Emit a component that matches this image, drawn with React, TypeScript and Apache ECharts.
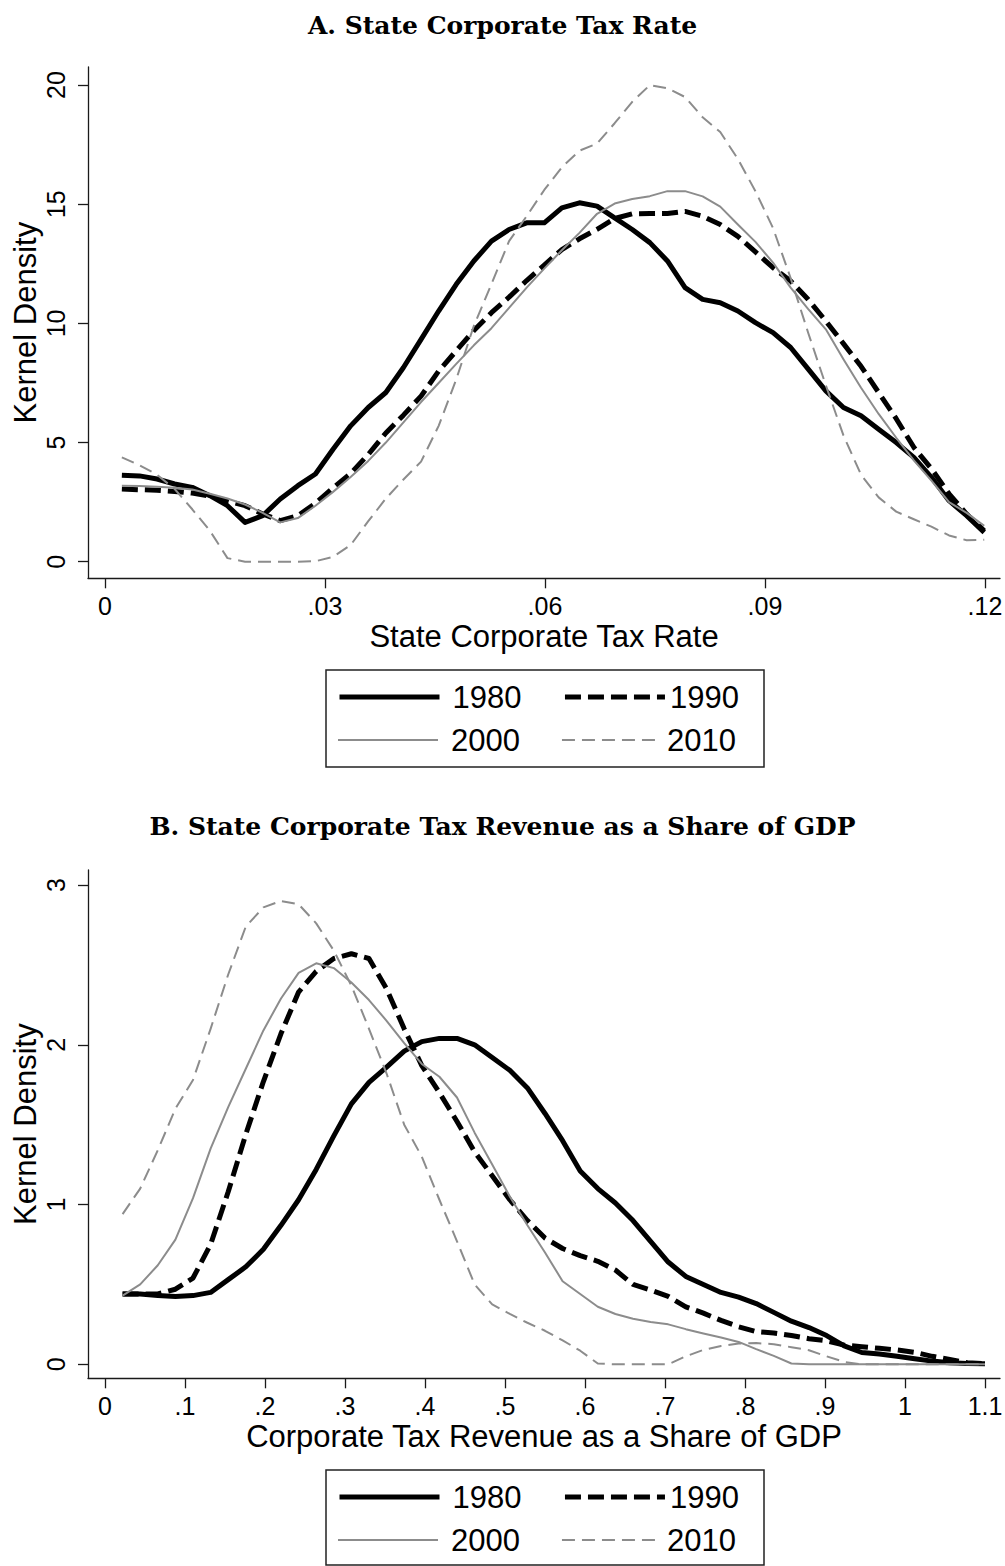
import React, { useEffect, useRef } from "react";
import * as echarts from "echarts";

// ---------- Panel A: State corporate tax rate (kernel density) ----------
const xA = [
  0.0023, 0.0047, 0.0071, 0.0095, 0.0119, 0.0143, 0.0167, 0.0191, 0.0215, 0.0239,
  0.0263, 0.0287, 0.0311, 0.0335, 0.0359, 0.0383, 0.0407, 0.0431, 0.0455, 0.0479,
  0.0503, 0.0527, 0.0551, 0.0575, 0.0599, 0.0623, 0.0647, 0.0671, 0.0695, 0.0719,
  0.0743, 0.0767, 0.0791, 0.0815, 0.0839, 0.0863, 0.0887, 0.0911, 0.0935, 0.0959,
  0.0983, 0.1007, 0.1031, 0.1055, 0.1079, 0.1103, 0.1127, 0.1151, 0.1175, 0.1199,
];
const a1980 = [
  3.63, 3.6, 3.47, 3.26, 3.12, 2.77, 2.35, 1.65, 1.93, 2.63,
  3.19, 3.68, 4.72, 5.7, 6.47, 7.1, 8.15, 9.33, 10.52, 11.64,
  12.62, 13.45, 13.94, 14.22, 14.22, 14.85, 15.06, 14.92, 14.43, 13.94,
  13.39, 12.62, 11.5, 11.01, 10.87, 10.52, 10.03, 9.61, 8.99, 8.08,
  7.17, 6.47, 6.12, 5.56, 5.0, 4.38, 3.54, 2.56, 1.93, 1.23,
];
const a1990 = [
  3.05, 3.02, 3.0, 2.95, 2.88, 2.75, 2.55, 2.35, 2.0, 1.72,
  1.93, 2.45, 3.1, 3.7, 4.5, 5.4, 6.15, 6.95, 8.0, 8.85,
  9.7, 10.45, 11.1, 11.8, 12.45, 13.1, 13.55, 13.95, 14.4, 14.6,
  14.61, 14.61, 14.7, 14.5, 14.15, 13.65, 13.0, 12.34, 11.78, 11.0,
  10.1, 9.15, 8.2, 7.1, 6.0, 4.8, 3.9, 2.85, 2.0, 1.3,
];
const a2000 = [
  3.19, 3.18, 3.15, 3.1, 3.03, 2.85, 2.65, 2.4, 2.05, 1.65,
  1.83, 2.35, 2.93, 3.55, 4.23, 5.0, 5.85, 6.7, 7.5, 8.3,
  9.08, 9.8, 10.65, 11.5, 12.3, 13.07, 13.8, 14.6, 15.03, 15.22,
  15.34, 15.55, 15.55, 15.33, 14.9, 14.15, 13.42, 12.55, 11.5, 10.6,
  9.75, 8.5, 7.3, 6.2, 5.2, 4.25, 3.4, 2.5, 2.05, 1.51,
];
const a2010 = [
  4.38, 4.05, 3.65, 3.05, 2.2, 1.3, 0.15, 0.0, 0.0, 0.0,
  0.0, 0.02, 0.2, 0.7, 1.7, 2.65, 3.45, 4.2, 5.7, 7.65,
  9.9, 11.65, 13.45, 14.5, 15.6, 16.55, 17.25, 17.55, 18.4, 19.3,
  20.0, 19.87, 19.5, 18.65, 18.03, 16.9, 15.55, 14.0, 11.9, 9.6,
  7.4, 5.3, 3.65, 2.7, 2.1, 1.78, 1.47, 1.1, 0.9, 0.92,
];
const xTickValsA = [0, 0.03, 0.06, 0.09, 0.12];
const xTickLabsA = ["0", ".03", ".06", ".09", ".12"];
const yTickValsA = [0, 5, 10, 15, 20];

// ---------- Panel B: corporate tax revenue as share of GDP ----------
const xB = [
  0.022, 0.044, 0.066, 0.088, 0.11, 0.132, 0.154, 0.176, 0.198, 0.22,
  0.242, 0.264, 0.286, 0.308, 0.33, 0.352, 0.374, 0.396, 0.418, 0.44,
  0.462, 0.484, 0.506, 0.528, 0.55, 0.572, 0.594, 0.616, 0.638, 0.66,
  0.682, 0.704, 0.726, 0.748, 0.77, 0.792, 0.814, 0.836, 0.858, 0.88,
  0.902, 0.924, 0.946, 0.968, 0.99, 1.012, 1.034, 1.056, 1.078, 1.1,
];
const b1980 = [
  0.44, 0.44, 0.43, 0.425, 0.43, 0.45, 0.53, 0.61, 0.72, 0.87,
  1.03, 1.22, 1.43, 1.63, 1.765, 1.86, 1.96, 2.02, 2.04, 2.04,
  2.0, 1.92, 1.84, 1.73, 1.57, 1.4, 1.21, 1.1, 1.01, 0.9,
  0.77, 0.64, 0.55, 0.5, 0.45, 0.42, 0.38, 0.325, 0.27, 0.23,
  0.18, 0.115, 0.074, 0.065, 0.05, 0.035, 0.02, 0.01, 0.005, 0.003,
];
const b1990 = [
  0.44, 0.44, 0.44, 0.47, 0.54, 0.75, 1.08, 1.44, 1.77, 2.07,
  2.33, 2.46, 2.54, 2.57, 2.54, 2.35, 2.1, 1.87, 1.7, 1.52,
  1.33, 1.18, 1.03, 0.9, 0.79, 0.725, 0.68, 0.645, 0.59, 0.5,
  0.465, 0.425, 0.36, 0.32, 0.275, 0.235, 0.205, 0.196, 0.18, 0.16,
  0.147, 0.12, 0.11, 0.1, 0.09, 0.075, 0.05, 0.03, 0.01, 0.003,
];
const b2000 = [
  0.43, 0.5, 0.62, 0.78, 1.04, 1.35, 1.61, 1.85, 2.09, 2.29,
  2.45, 2.51, 2.48, 2.39, 2.28, 2.15, 2.01, 1.88, 1.8, 1.67,
  1.45, 1.25, 1.05, 0.87, 0.7, 0.52, 0.44, 0.36, 0.315, 0.285,
  0.265, 0.25, 0.22, 0.193, 0.168, 0.14, 0.095, 0.053, 0.005, 0,
  0, 0, 0, 0, 0, 0, 0, 0, 0, 0,
];
const b2010 = [
  0.94, 1.1, 1.34, 1.6, 1.78, 2.1, 2.44, 2.74, 2.86, 2.9,
  2.88, 2.76, 2.59, 2.37, 2.1, 1.82, 1.5, 1.3, 1.03, 0.77,
  0.5, 0.375, 0.315, 0.26, 0.21, 0.15, 0.085, 0.005, 0, 0,
  0, 0, 0.05, 0.09, 0.115, 0.13, 0.133, 0.126, 0.107, 0.088,
  0.05, 0.015, 0, 0, 0, 0, 0, 0, 0, 0,
];
const xTickValsB = [0, 0.1, 0.2, 0.3, 0.4, 0.5, 0.6, 0.7, 0.8, 0.9, 1.0, 1.1];
const xTickLabsB = ["0", ".1", ".2", ".3", ".4", ".5", ".6", ".7", ".8", ".9", "1", "1.1"];
const yTickValsB = [0, 1, 2, 3];

const years = ["1980", "1990", "2000", "2010"];
const titleA = "A. State Corporate Tax Rate";
const titleB = "B. State Corporate Tax Revenue as a Share of GDP";
const xNameA = "State Corporate Tax Rate";
const xNameB = "Corporate Tax Revenue as a Share of GDP";
const yName = "Kernel Density";

const GRAY = "#8c8c8c";
const lineStyles: Record<string, any> = {
  "1980": { color: "#000", width: 5, type: "solid" },
  "1990": { color: "#000", width: 5, type: [16, 7] },
  "2000": { color: GRAY, width: 2, type: "solid" },
  "2010": { color: GRAY, width: 2, type: [13, 7] },
};

const SANS = "Liberation Sans, Arial, sans-serif";
const AXIS_COLOR = "#1a1a1a";

function pairs(xs: number[], ys: number[]) {
  return xs.map((x, i) => [x, ys[i]]);
}

function labeler(vals: number[], labs: string[]) {
  return (v: number) => {
    for (let i = 0; i < vals.length; i++) {
      if (Math.abs(vals[i] - v) < 1e-9) return labs[i];
    }
    return "";
  };
}

function xAxisCfg(gridIndex: number, min: number, max: number, vals: number[], labs: string[], name: string) {
  return {
    type: "value",
    gridIndex,
    min,
    max,
    axisLine: { show: true, onZero: false, lineStyle: { color: AXIS_COLOR, width: 1.3 } },
    axisTick: { show: true, length: 10, customValues: vals, lineStyle: { color: AXIS_COLOR, width: 1.3 } },
    axisLabel: {
      customValues: vals,
      formatter: labeler(vals, labs),
      fontSize: 25,
      fontFamily: SANS,
      color: "#000",
      margin: 15,
    },
    splitLine: { show: false },
    name,
    nameLocation: "middle",
    nameGap: 43,
    nameMoveOverlap: false,
    nameTextStyle: { fontSize: 31, fontFamily: SANS, color: "#000" },
  };
}

function yAxisCfg(gridIndex: number, min: number, max: number, vals: number[]) {
  return {
    type: "value",
    gridIndex,
    min,
    max,
    axisLine: { show: true, onZero: false, lineStyle: { color: AXIS_COLOR, width: 1.3 } },
    axisTick: { show: true, length: 10, customValues: vals, lineStyle: { color: AXIS_COLOR, width: 1.3 } },
    axisLabel: {
      customValues: vals,
      formatter: (v: number) => String(Math.round(v)),
      rotate: 90,
      fontSize: 25,
      fontFamily: SANS,
      color: "#000",
      margin: 20,
    },
    splitLine: { show: false },
    name: yName,
    nameLocation: "middle",
    nameRotate: 90,
    nameGap: 47,
    nameMoveOverlap: false,
    nameTextStyle: { fontSize: 31, fontFamily: SANS, color: "#000" },
  };
}

function legendRow(names: string[], left: number, top: number) {
  return {
    left,
    top,
    orient: "horizontal",
    padding: 0,
    itemWidth: 100,
    itemHeight: 20,
    itemGap: 41,
    selectedMode: false,
    itemStyle: { opacity: 0 },
    lineStyle: { width: "inherit", type: "inherit" },
    data: [{ name: names[0], textStyle: { padding: [0, 0, 0, 8] } }, names[1]],
    textStyle: { fontSize: 31, fontFamily: SANS, color: "#000" },
  };
}

export default function App() {
  const ref = useRef<HTMLDivElement>(null);

  useEffect(() => {
    document.body.style.margin = "0";
    if (!ref.current) return;
    const chart = echarts.init(ref.current, null, { renderer: "svg" });

    const dataA = [a1980, a1990, a2000, a2010];
    const dataB = [b1980, b1990, b2000, b2010];
    const series: any[] = [];
    years.forEach((y, i) => {
      const ls = lineStyles[y];
      series.push({
        name: y,
        type: "line",
        xAxisIndex: 0,
        yAxisIndex: 0,
        data: pairs(xA, dataA[i]),
        symbol: "none",
        lineStyle: { color: ls.color, width: ls.width, type: ls.type, cap: "butt", join: "round" },
        itemStyle: { color: ls.color },
        z: 2 + i,
      });
    });
    years.forEach((y, i) => {
      const ls = lineStyles[y];
      series.push({
        name: y,
        type: "line",
        xAxisIndex: 1,
        yAxisIndex: 1,
        data: pairs(xB, dataB[i]),
        symbol: "none",
        lineStyle: { color: ls.color, width: ls.width, type: ls.type, cap: "butt", join: "round" },
        itemStyle: { color: ls.color },
        z: 2 + i,
      });
    });

    const option: any = {
      animation: false,
      backgroundColor: "#fff",
      title: [
        {
          text: titleA,
          left: "center",
          top: 13,
          padding: 0,
          textStyle: { fontFamily: "DejaVu Serif", fontWeight: "bold", fontSize: 25, color: "#000" },
        },
        {
          text: titleB,
          left: "center",
          top: 814,
          padding: 0,
          textStyle: { fontFamily: "DejaVu Serif", fontWeight: "bold", fontSize: 25, color: "#000" },
        },
      ],
      grid: [
        { left: 88, top: 67, width: 912, height: 511.3, containLabel: false, outerBoundsMode: "none" },
        { left: 88, top: 870, width: 912, height: 508.3, containLabel: false, outerBoundsMode: "none" },
      ],
      xAxis: [
        xAxisCfg(0, -0.002318, 0.12205, xTickValsA, xTickLabsA, xNameA),
        xAxisCfg(1, -0.02125, 1.11875, xTickValsB, xTickLabsB, xNameB),
      ],
      yAxis: [yAxisCfg(0, -0.697, 20.76, yTickValsA), yAxisCfg(1, -0.0876, 3.094, yTickValsB)],
      legend: [
        legendRow(["1980", "1990"], 337, 681.5),
        legendRow(["2000", "2010"], 337, 724.5),
        legendRow(["1980", "1990"], 337, 1481.5),
        legendRow(["2000", "2010"], 337, 1524.5),
      ],
      graphic: [
        {
          type: "rect",
          silent: true,
          shape: { x: 326, y: 670, width: 438, height: 97 },
          style: { fill: "none", stroke: "#222", lineWidth: 1.5 },
        },
        {
          type: "rect",
          silent: true,
          shape: { x: 326, y: 1470, width: 438, height: 95 },
          style: { fill: "none", stroke: "#222", lineWidth: 1.5 },
        },
      ],
      series,
    };
    chart.setOption(option);
    return () => chart.dispose();
  }, []);

  return <div ref={ref} style={{ width: 1005, height: 1566 }} />;
}
